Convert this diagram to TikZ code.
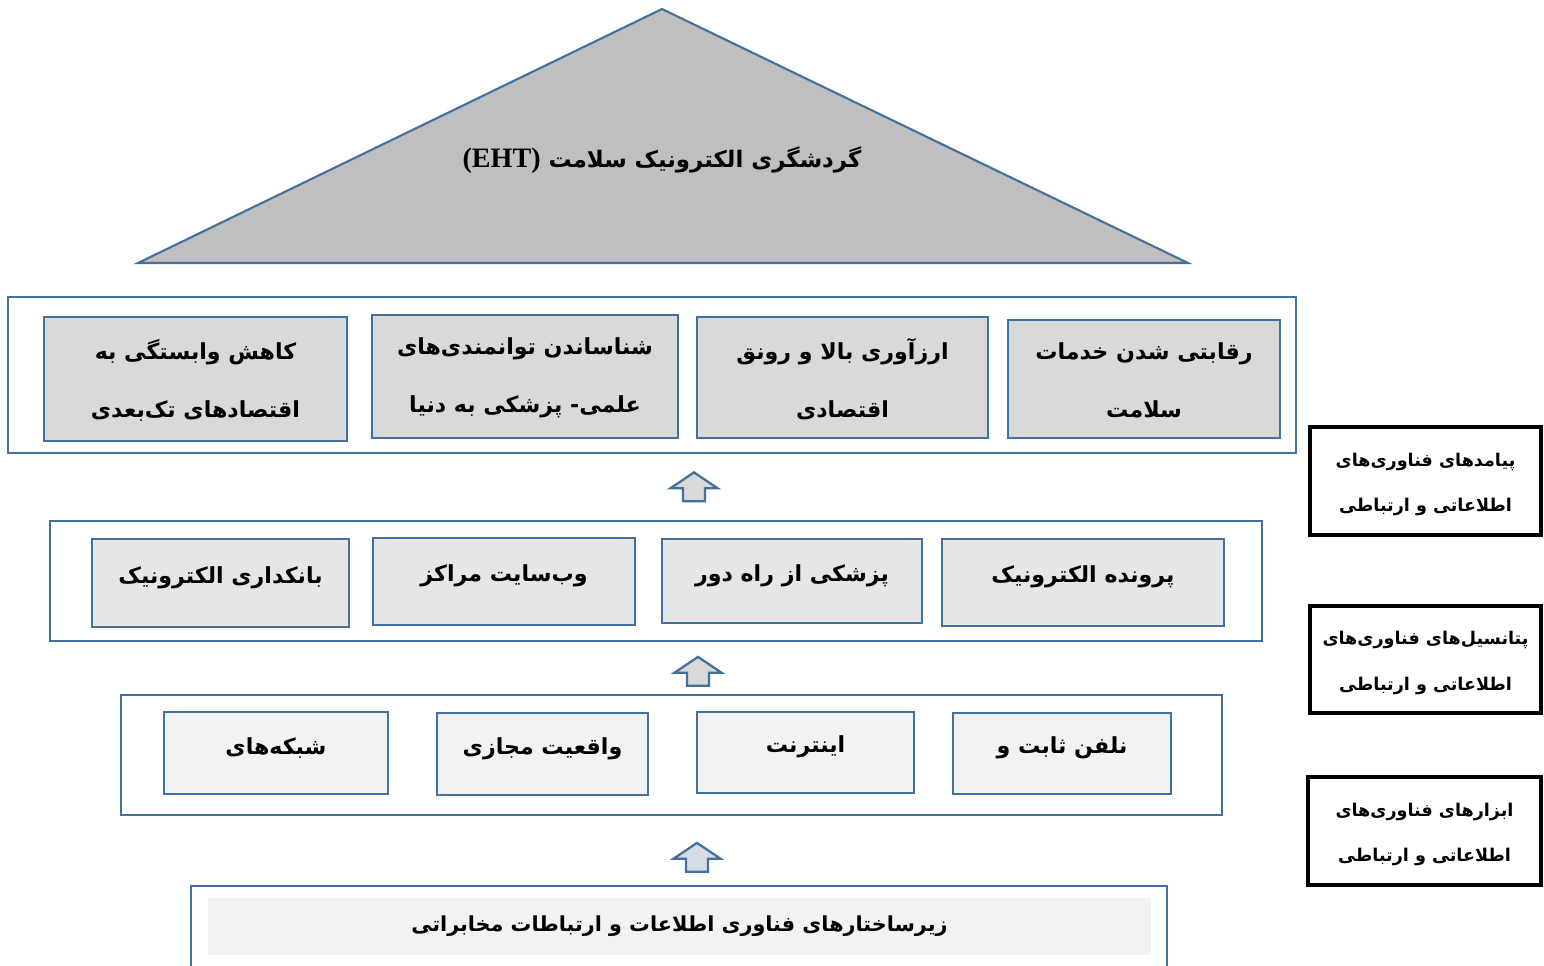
\documentclass[tikz,border=0pt]{standalone}
\usepackage{fontspec}
\usepackage{xcolor}
\usepackage{tikz}
\usetikzlibrary{positioning,fit,shapes.arrows}
\TeXXeTstate=1
\newfontfamily\arabicfont[Script=Arabic]{DejaVu Sans}
\newfontfamily\latinfont{Liberation Serif}
\newcommand{\fa}{\arabicfont\bfseries}
\definecolor{frameblue}{RGB}{65,113,156}
\definecolor{peakgray}{RGB}{191,191,191}
\definecolor{topgray}{RGB}{217,217,217}
\definecolor{midgray}{RGB}{231,230,230}
\definecolor{lowgray}{RGB}{242,242,242}
\definecolor{arrowblue}{RGB}{214,220,229}

\begin{document}
\begin{tikzpicture}[x=0.02cm,y=-0.02cm,
    layer/.style={draw=frameblue, line width=1.2pt, fill=white, inner sep=0pt},
    item/.style={draw=frameblue, line width=1.3pt, inner sep=0pt},
    itemtext/.style={align=center, inner sep=0pt, font=\fa\fontsize{12.6}{33}\selectfont},
    side/.style={draw=black, line width=2pt, fill=white, inner sep=0pt},
    sidetext/.style={align=center, inner sep=0pt, font=\fa\fontsize{10}{26}\selectfont},
    uparrow/.style={single arrow, draw=frameblue, line width=1.3pt, rotate=90,
      minimum height=16.4pt, minimum width=25.5pt, inner xsep=0pt, inner ysep=5.65pt,
      single arrow head extend=7.1pt, single arrow tip angle=112}]
  \useasboundingbox (0,0) rectangle (1544,965);

  % top: the goal
  \draw[draw=frameblue, line width=1.2pt, fill=peakgray] (662,9) -- (1188,263) -- (138,263) -- cycle;
  \node[font=\fa\fontsize{13}{16}\selectfont] (title) at (662,160)
    {\beginR گردشگری الکترونیک سلامت \beginL{\latinfont\bfseries\fontsize{16}{16}\selectfont (EHT)}\endL\endR};

  % outcomes
  \node[layer, fit={(8,297) (1296,453)}] (outcome) {};
  \node[item, fill=topgray, fit={(44,317) (347,441)},
    label={[itemtext, yshift=-1pt]center:{\beginR کاهش وابستگی به\endR\\\beginR اقتصادهای تک^^^^200cبعدی\endR}}] (o1) {};
  \node[item, fill=topgray, fit={(372,315) (678,438)},
    label={[itemtext, yshift=-1pt]center:{\beginR شناساندن توانمندی^^^^200cهای\endR\\\beginR علمی- پزشکی به دنیا\endR}}] (o2) {};
  \node[item, fill=topgray, fit={(697,317) (988,438)},
    label={[itemtext, yshift=-1pt]center:{\beginR ارزآوری بالا و رونق\endR\\\beginR اقتصادی\endR}}] (o3) {};
  \node[item, fill=topgray, fit={(1008,320) (1280,438)},
    label={[itemtext, yshift=-1pt]center:{\beginR رقابتی شدن خدمات\endR\\\beginR سلامت\endR}}] (o4) {};

  \node[uparrow, fill=topgray] (arrA) at (694,490.5) {};

  % potentials
  \node[layer, fit={(50,521) (1262,641)}] (potential) {};
  \node[item, fill=midgray, fit={(92,539) (349,627)},
    label={[itemtext, yshift=3pt]center:{\beginR بانکداری الکترونیک\endR}}] (p1) {};
  \node[item, fill=midgray, fit={(373,538) (635,625)},
    label={[itemtext, yshift=3pt]center:{\beginR وب^^^^200cسایت مراکز\endR}}] (p2) {};
  \node[item, fill=midgray, fit={(662,539) (922,623)},
    label={[itemtext, yshift=3pt]center:{\beginR پزشکی از راه دور\endR}}] (p3) {};
  \node[item, fill=midgray, fit={(942,539) (1224,626)},
    label={[itemtext, yshift=3pt]center:{\beginR پرونده الکترونیک\endR}}] (p4) {};

  \node[uparrow, fill=topgray] (arrB) at (698,675) {};

  % tools
  \node[layer, fit={(121,695) (1222,815)}] (tool) {};
  \node[item, fill=lowgray, fit={(164,712) (388,794)},
    label={[itemtext, yshift=3pt]center:{\beginR شبکه^^^^200cهای\endR}}] (t1) {};
  \node[item, fill=lowgray, fit={(437,713) (648,795)},
    label={[itemtext, yshift=3pt]center:{\beginR واقعیت مجازی\endR}}] (t2) {};
  \node[item, fill=lowgray, fit={(697,712) (914,793)},
    label={[itemtext, yshift=3pt]center:{\beginR اینترنت\endR}}] (t3) {};
  \node[item, fill=lowgray, fit={(953,713) (1171,794)},
    label={[itemtext, yshift=3pt]center:{\beginR نلفن ثابت و\endR}}] (t4) {};

  \node[uparrow, fill=arrowblue] (arrC) at (697,861) {};

  % infrastructure
  \node[layer, fit={(191,886) (1167,975)}] (base) {};
  \node[fill=lowgray, inner sep=0pt, fit={(208,898) (1151,955)},
    label={[itemtext, font=\fa\fontsize{11.8}{16}\selectfont]center:{\beginR زیرساختارهای فناوری اطلاعات و ارتباطات مخابراتی\endR}}] (basetext) {};

  % side labels
  \node[side, fit={(1310,427) (1541,535)},
    label={[sidetext, yshift=-2pt]center:{\beginR پیامدهای فناوری^^^^200cهای\endR\\\beginR اطلاعاتی و ارتباطی\endR}}] (s1) {};
  \node[side, fit={(1310,606) (1541,713)},
    label={[sidetext, yshift=-2pt]center:{\beginR پتانسیل^^^^200cهای فناوری^^^^200cهای\endR\\\beginR اطلاعاتی و ارتباطی\endR}}] (s2) {};
  \node[side, fit={(1308,777) (1541,885)},
    label={[sidetext, yshift=-2pt]center:{\beginR ابزارهای فناوری^^^^200cهای\endR\\\beginR اطلاعاتی و ارتباطی\endR}}] (s3) {};
\end{tikzpicture}
\end{document}
